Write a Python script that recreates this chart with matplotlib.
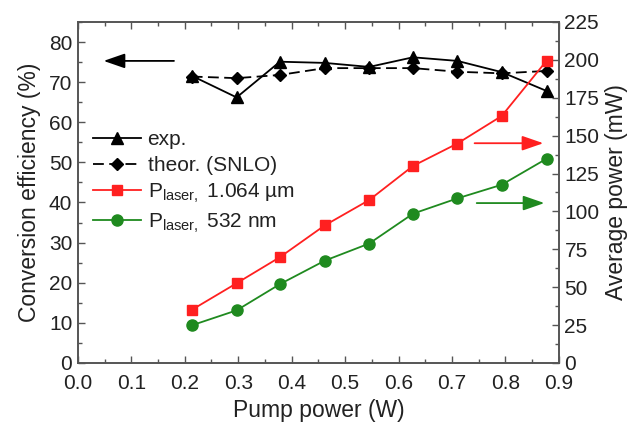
import matplotlib
matplotlib.use("Agg")
import matplotlib.pyplot as plt
from matplotlib.ticker import MultipleLocator, FormatStrFormatter

plt.rcParams['font.family'] = ['Liberation Sans', 'DejaVu Sans']
plt.rcParams['mathtext.fontset'] = 'custom'
plt.rcParams['mathtext.rm'] = 'Liberation Sans'
plt.rcParams['mathtext.it'] = 'Liberation Sans'

pump = [0.213, 0.297, 0.378, 0.462, 0.545, 0.627, 0.710, 0.793, 0.877]
eff_exp = [71.6, 66.2, 75.1, 74.8, 73.8, 76.2, 75.3, 72.5, 67.8]
eff_theor = [71.4, 71.0, 71.8, 73.5, 73.5, 73.5, 72.6, 72.2, 72.8]
p_1064 = [35.0, 52.6, 69.8, 90.8, 107.5, 130.0, 144.8, 163.0, 199.5]
p_532 = [24.8, 34.7, 52.0, 67.5, 78.8, 98.5, 108.6, 117.6, 134.8]

red = '#ff2020'
green = '#1f8a1f'
spine_c = '#555555'
txt_c = '#222222'

fig = plt.figure(figsize=(6.33, 4.23), dpi=100)
ax = fig.add_axes([0.123, 0.142, 0.760, 0.806])
ax2 = ax.twinx()

l1, = ax.plot(pump, eff_exp, '-', color='black', marker='^', ms=9, lw=1.3, label='exp.')
l2, = ax.plot(pump, eff_theor, '--', color='black', marker='D', ms=6.5, lw=1.3, dashes=(6, 3), label='theor. (SNLO)')
l3, = ax2.plot(pump, p_1064, '-', color=red, marker='s', ms=7, lw=1.3, label='P$_{\\mathregular{laser,}}$ 1.064 µm')
l4, = ax2.plot(pump, p_532, '-', color=green, marker='o', ms=8, lw=1.3, label='P$_{\\mathregular{laser,}}$ 532 nm')

ax.set_xlim(0, 0.9)
ax.set_ylim(0, 85)
ax2.set_ylim(0, 225)

ax.xaxis.set_major_locator(MultipleLocator(0.1))
ax.xaxis.set_minor_locator(MultipleLocator(0.05))
ax.yaxis.set_major_locator(MultipleLocator(10))
ax.yaxis.set_minor_locator(MultipleLocator(5))
ax2.yaxis.set_major_locator(MultipleLocator(25))
ax2.yaxis.set_minor_locator(MultipleLocator(12.5))

ax.tick_params(axis='x', which='both', direction='in', top=True, labelsize=15, colors=spine_c, labelcolor=txt_c, pad=8)
ax.tick_params(axis='y', which='both', direction='in', right=False, labelsize=15, colors=spine_c, labelcolor=txt_c, pad=4)
ax2.tick_params(axis='y', which='both', direction='in', labelsize=15, colors=spine_c, labelcolor=txt_c, pad=4)
for a in (ax, ax2):
    a.tick_params(which='major', length=5, width=1)
    a.tick_params(which='minor', length=3, width=1)
    for s in a.spines.values():
        s.set_color(spine_c)
        s.set_linewidth(1.2)

ax.xaxis.set_major_formatter(FormatStrFormatter('%.1f'))

ax.set_xlabel('Pump power (W)', fontsize=16.5, color=txt_c, labelpad=4)
ax.set_ylabel('Conversion efficiency (%)', fontsize=16.5, color=txt_c, labelpad=6)
ax2.set_ylabel('Average power (mW)', fontsize=16.5, color=txt_c, labelpad=4)

# arrows
ax.annotate('', xy=(0.043, 75.3), xytext=(0.185, 75.3),
            arrowprops=dict(arrowstyle='-|>,head_length=1.3,head_width=0.45', color='black', lw=1.3))
ax2.annotate('', xy=(0.876, 145), xytext=(0.737, 145),
             arrowprops=dict(arrowstyle='-|>,head_length=1.3,head_width=0.45', color=red, lw=1.3))
ax2.annotate('', xy=(0.878, 105.5), xytext=(0.741, 105.5),
             arrowprops=dict(arrowstyle='-|>,head_length=1.3,head_width=0.45', color=green, lw=1.3))

leg = ax.legend(handles=[l1, l2, l3, l4], loc='upper left', bbox_to_anchor=(0.015, 0.707),
                frameon=False, fontsize=15, handlelength=2.3, handletextpad=0.3,
                labelspacing=0.32, borderaxespad=0.0, borderpad=0.4)
for t in leg.get_texts():
    t.set_color(txt_c)

fig.savefig('out.png', dpi=100)
